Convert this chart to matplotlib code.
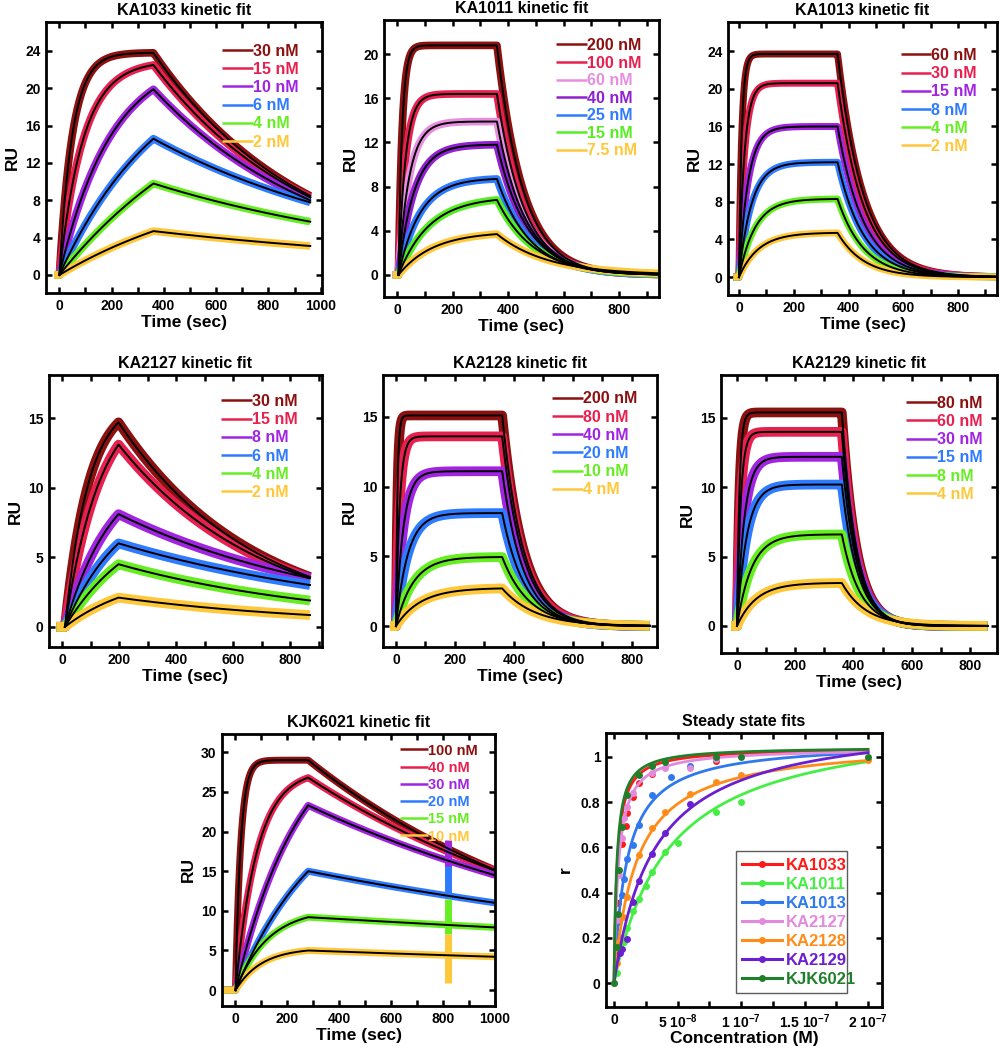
import numpy as np
import matplotlib
matplotlib.use("Agg")
import matplotlib.pyplot as plt
from matplotlib.ticker import MultipleLocator

plt.rcParams['font.family'] = ['Liberation Sans', 'DejaVu Sans']
plt.rcParams['font.weight'] = 'bold'
plt.rcParams['mathtext.fontset'] = 'custom'
plt.rcParams['mathtext.rm'] = 'Liberation Sans:bold'
plt.rcParams['mathtext.bf'] = 'Liberation Sans:bold'
plt.rcParams['mathtext.default'] = 'bf'

# ---- sensorgram readings: RU at end of injection, on-rate shape, off-rate ----
c6 = ['#8b1010', '#e8204f', '#a024e0', '#2f7bff', '#66ee22', '#ffc83a']
c7 = ['#8b1010', '#e8204f', '#e88ee0', '#9020d0', '#2f7bff', '#55ee22', '#ffc83a']

ka1033_conc = ['30 nM', '15 nM', '10 nM', '6 nM', '4 nM', '2 nM']
ka1033_peak = [23.8, 22.5, 19.9, 14.6, 9.8, 4.7]
ka1033_kon = [0.02, 0.011, 0.005, 0.0025, 0.0015, 0.0015]
ka1033_koff = [0.00172, 0.00166, 0.00152, 0.00105, 0.0009, 0.00069]

ka1011_conc = ['200 nM', '100 nM', '60 nM', '40 nM', '25 nM', '15 nM', '7.5 nM']
ka1011_peak = [20.8, 16.4, 13.9, 11.8, 8.7, 6.8, 3.7]
ka1011_kon = [0.075, 0.04, 0.026, 0.018, 0.013, 0.009, 0.008]
ka1011_koff = [0.0105, 0.0102, 0.0098, 0.0092, 0.0085, 0.0075, 0.0055]

ka1013_conc = ['60 nM', '30 nM', '15 nM', '8 nM', '4 nM', '2 nM']
ka1013_peak = [23.7, 20.6, 16.0, 12.2, 8.3, 4.7]
ka1013_kon = [0.1, 0.05, 0.03, 0.022, 0.017, 0.014]
ka1013_koff = [0.0105, 0.0105, 0.0105, 0.0105, 0.0105, 0.0105]

ka2127_conc = ['30 nM', '15 nM', '8 nM', '6 nM', '4 nM', '2 nM']
ka2127_peak = [14.7, 13.1, 8.1, 6.0, 4.5, 2.1]
ka2127_kon = [0.012, 0.008, 0.006, 0.005, 0.004, 0.004]
ka2127_koff = [0.0021, 0.00197, 0.00125, 0.00103, 0.00129, 0.00135]

ka2128_conc = ['200 nM', '80 nM', '40 nM', '20 nM', '10 nM', '4 nM']
ka2128_peak = [15.1, 13.6, 11.1, 8.1, 4.95, 2.7]
ka2128_kon = [0.2, 0.08, 0.04, 0.025, 0.017, 0.012]
ka2128_koff = [0.014, 0.014, 0.014, 0.013, 0.011, 0.009]

ka2129_conc = ['80 nM', '60 nM', '30 nM', '15 nM', '8 nM', '4 nM']
ka2129_peak = [15.4, 14.0, 12.2, 10.2, 6.6, 3.1]
ka2129_kon = [0.12, 0.08, 0.04, 0.03, 0.02, 0.015]
ka2129_koff = [0.02, 0.02, 0.019, 0.018, 0.016, 0.012]

kjk6021_conc = ['100 nM', '40 nM', '30 nM', '20 nM', '15 nM', '10 nM']
kjk6021_peak = [29.0, 26.8, 23.3, 15.0, 9.2, 5.0]
kjk6021_kon = [0.05, 0.012, 0.004, 0.003, 0.008, 0.01]
kjk6021_koff = [0.0009, 0.0008, 0.00066, 0.00043, 0.00021, 0.00024]
# injection artefact near 820 s (low, high RU) per trace
kjk6021_spike = [None, None, (15.3, 18.9), (12.2, 15.7), (7.1, 11.5), (0.9, 7.1)]

# ---- steady state points (conc in nM, normalised response) ----
ss_names = ['KA1033', 'KA1011', 'KA1013', 'KA2127', 'KA2128', 'KA2129', 'KJK6021']
ss_colors = ['#ff1a1a', '#44ee44', '#2f78ee', '#e28ade', '#ff8c1a', '#6a1fd0', '#1f7f2a']
ss_kd = [2.5, 43, 10, 3.5, 17.6, 31.7, 2.2]
ss_rmax = [1.04, 1.19, 1.07, 1.04, 1.071, 1.181, 1.045]

ka1033_ss_c = [3.2, 6.0, 9.2, 10.5, 15, 20, 30, 80]
ka1033_ss_r = [0.356, 0.614, 0.694, 0.75, 0.823, 0.885, 0.926, 0.98]
ka1011_ss_c = [2, 5, 8, 10, 15, 20, 25, 30, 40, 50, 80, 100]
ka1011_ss_r = [0.045, 0.14, 0.18, 0.245, 0.32, 0.37, 0.43, 0.49, 0.58, 0.62, 0.757, 0.80]
ka1013_ss_c = [1.5, 3, 4, 6, 8, 10, 15, 20, 30, 45, 60, 80]
ka1013_ss_r = [0.11, 0.21, 0.27, 0.39, 0.46, 0.55, 0.61, 0.70, 0.83, 0.91, 0.96, 0.99]
ka2127_ss_c = [0, 2, 4, 6, 8, 10, 15, 30, 40, 60, 80]
ka2127_ss_r = [0.0, 0.28, 0.48, 0.64, 0.73, 0.78, 0.84, 0.93, 0.95, 0.95, 0.99]
ka2128_ss_c = [2, 4, 7, 10, 20, 30, 40, 60, 80, 100, 200]
ka2128_ss_r = [0.09, 0.18, 0.29, 0.38, 0.566, 0.684, 0.757, 0.838, 0.889, 0.919, 0.985]
ka2129_ss_c = [4.5, 6, 10, 15, 20, 30, 40, 60]
ka2129_ss_r = [0.135, 0.15, 0.194, 0.36, 0.45, 0.569, 0.664, 0.794]
kjk6021_ss_c = [0, 2, 3, 4, 6, 10, 20, 30, 40, 80, 100, 200]
kjk6021_ss_r = [0, 0.16, 0.305, 0.5, 0.69, 0.83, 0.92, 0.96, 0.978, 1.0, 1.0, 1.0]

ss_c = [ka1033_ss_c, ka1011_ss_c, ka1013_ss_c, ka2127_ss_c, ka2128_ss_c, ka2129_ss_c, kjk6021_ss_c]
ss_r = [ka1033_ss_r, ka1011_ss_r, ka1013_ss_r, ka2127_ss_r, ka2128_ss_r, ka2129_ss_r, kjk6021_ss_r]


def sensorgram(t, t0, t1, peak, kon, koff):
    r = np.zeros_like(t)
    a = (t >= t0) & (t <= t1)
    r[a] = peak * (1 - np.exp(-kon * (t[a] - t0))) / (1 - np.exp(-kon * (t1 - t0)))
    d = t > t1
    r[d] = peak * np.exp(-koff * (t[d] - t1))
    return r


panels = [
    dict(title='KA1033', rect=[46, 22, 322, 293], conc=ka1033_conc, peak=ka1033_peak, kon=ka1033_kon,
         koff=ka1033_koff, colors=c6, t0=0, t1=360, tstart=-20, tend=960, xlim=(-51, 1005),
         ylim=(-1.93, 27.1), ymaj=4, leg=(0.915, 0.92), band=5.5, fs=11.5, ls=0.2),
    dict(title='KA1011', rect=[384, 20, 659, 297], conc=ka1011_conc, peak=ka1011_peak, kon=ka1011_kon,
         koff=ka1011_koff, colors=c7, t0=5, t1=360, tstart=-15, tend=940, xlim=(-47, 944),
         ylim=(-2, 23.1), ymaj=4, leg=(0.935, 0.935), band=5.5, fs=11.5, ls=0.16),
    dict(title='KA1013', rect=[728, 22, 997, 295], conc=ka1013_conc, peak=ka1013_peak, kon=ka1013_kon,
         koff=ka1013_koff, colors=c6, t0=0, t1=360, tstart=-20, tend=940, xlim=(-40, 942),
         ylim=(-1.9, 27.1), ymaj=4, leg=(0.925, 0.905), band=5.0, fs=11.5, ls=0.2),
    dict(title='KA2127', rect=[49, 375, 322, 647], conc=ka2127_conc, peak=ka2127_peak, kon=ka2127_kon,
         koff=ka2127_koff, colors=c6, t0=10, t1=198, tstart=-20, tend=870, xlim=(-46, 912),
         ylim=(-1.45, 18.1), ymaj=5, leg=(0.91, 0.93), band=7.0, fs=11.5, ls=0.2),
    dict(title='KA2128', rect=[383, 375, 657, 647], conc=ka2128_conc, peak=ka2128_peak, kon=ka2128_kon,
         koff=ka2128_koff, colors=c6, t0=0, t1=360, tstart=-20, tend=860, xlim=(-44, 885),
         ylim=(-1.5, 18.0), ymaj=5, leg=(0.927, 0.94), band=7.0, fs=11.5, ls=0.2),
    dict(title='KA2129', rect=[721, 375, 997, 653], conc=ka2129_conc, peak=ka2129_peak, kon=ka2129_kon,
         koff=ka2129_koff, colors=c6, t0=0, t1=360, tstart=-20, tend=860, xlim=(-55, 893),
         ylim=(-1.95, 18.1), ymaj=5, leg=(0.947, 0.925), band=7.0, fs=11.5, ls=0.2),
    dict(title='KJK6021', rect=[222, 734, 495, 1006], conc=kjk6021_conc, peak=kjk6021_peak, kon=kjk6021_kon,
         koff=kjk6021_koff, colors=c6, t0=0, t1=280, tstart=-55, tend=1000, xlim=(-52, 1000),
         ylim=(-2, 32.3), ymaj=5, leg=(0.935, 0.965), band=5.0, fs=10.5, ls=0.22),
]

W, H = 1002, 1050
fig = plt.figure(figsize=(W / 100, H / 100), dpi=100)


def make_axes(rect):
    l, t, r, b = rect
    return fig.add_axes([l / W, 1 - b / H, (r - l) / W, (b - t) / H])


def style(ax):
    for s in ax.spines.values():
        s.set_linewidth(2.0)
    ax.tick_params(which='both', direction='in', top=True, right=True, length=4.5, width=1.8,
                   labelsize=10, pad=4)
    for lab in ax.get_xticklabels() + ax.get_yticklabels():
        lab.set_fontweight('bold')


for p in panels:
    ax = make_axes(p['rect'])
    t = np.linspace(p['tstart'], p['tend'], 2000)
    tf = np.linspace(p['t0'], p['tend'], 2000)
    for i, lab in enumerate(p['conc']):
        ru = sensorgram(t, p['t0'], p['t1'], p['peak'][i], p['kon'][i], p['koff'][i])
        ax.plot(t, ru, color=p['colors'][i], lw=p['band'], label=lab, solid_capstyle='butt')
    if p['title'] == 'KJK6021':
        for i, sp in enumerate(kjk6021_spike):
            if sp is not None:
                ax.plot([820, 820], sp, color=p['colors'][i], lw=5, solid_capstyle='butt')
    for i in range(len(p['conc'])):
        fit = sensorgram(tf, p['t0'], p['t1'], p['peak'][i], p['kon'][i], p['koff'][i])
        ax.plot(tf, fit, color='black', lw=1.4)
    ax.set_xlim(*p['xlim'])
    ax.set_ylim(*p['ylim'])
    ax.xaxis.set_major_locator(MultipleLocator(200))
    ax.xaxis.set_minor_locator(MultipleLocator(100))
    ax.yaxis.set_major_locator(MultipleLocator(p['ymaj']))
    ax.set_title(p['title'] + ' kinetic fit', fontsize=11.5, fontweight='bold', pad=5)
    ax.set_xlabel('Time (sec)', fontsize=12.5, fontweight='bold', labelpad=2)
    ax.set_ylabel('RU', fontsize=12.5, fontweight='bold', labelpad=4)
    style(ax)
    leg = ax.legend(loc='upper right', bbox_to_anchor=p['leg'], frameon=False, fontsize=p['fs'],
                    handlelength=1.9, handletextpad=0.0, labelspacing=p['ls'], borderpad=0,
                    borderaxespad=0, labelcolor='linecolor')
    for h in leg.get_lines():
        h.set_linewidth(1.8)
    for tx in leg.get_texts():
        tx.set_fontweight('bold')

# ---- steady state fits ----
ax = make_axes([606, 733, 882, 1007])
cc = np.linspace(0, 200, 400)
for i, name in enumerate(ss_names):
    ax.plot(cc * 1e-9, ss_rmax[i] * cc / (ss_kd[i] + cc), color=ss_colors[i], lw=2.0)
    ax.plot(np.array(ss_c[i]) * 1e-9, ss_r[i], 'o', color=ss_colors[i], ms=5, mec='none')
    ax.plot([], [], '-o', color=ss_colors[i], lw=2.2, ms=4, label=name)
ax.set_xlim(-6.3e-9, 2.11e-7)
ax.set_ylim(-0.106, 1.106)
ax.set_xticks([0, 5e-8, 1e-7, 1.5e-7, 2e-7])
ax.set_xticklabels(['0', r'5 10$^{-8}$', r'1 10$^{-7}$', r'1.5 10$^{-7}$', r'2 10$^{-7}$'])
ax.xaxis.set_minor_locator(MultipleLocator(2.5e-8))
ax.set_yticks([0, 0.2, 0.4, 0.6, 0.8, 1.0])
ax.set_yticklabels(['0', '0.2', '0.4', '0.6', '0.8', '1'])
ax.set_title('Steady state fits', fontsize=11.5, fontweight='bold', pad=5)
ax.set_xlabel('Concentration (M)', fontsize=12.5, fontweight='bold', labelpad=0)
ax.set_ylabel('r', fontsize=12.5, fontweight='bold', labelpad=6)
style(ax)
leg = ax.legend(loc='lower left', bbox_to_anchor=(0.47, 0.05, 0.404, 0.52), mode='expand', fontsize=12,
                handlelength=2.4, handletextpad=0.2, labelspacing=0.24, borderpad=0.4,
                borderaxespad=0, labelcolor='linecolor', fancybox=False, edgecolor='#333333')
leg.get_frame().set_linewidth(1.0)
for tx in leg.get_texts():
    tx.set_fontweight('bold')

fig.savefig('out.png', dpi=100)
